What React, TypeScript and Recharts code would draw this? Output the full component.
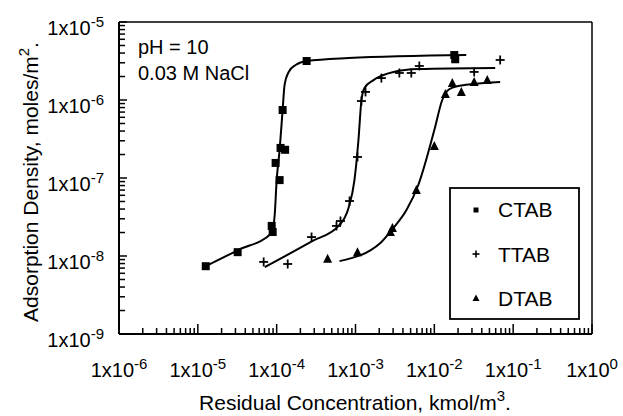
import React from 'react';
import { ComposedChart, XAxis, YAxis, Scatter, Line, ReferenceLine, Customized } from 'recharts';

const FONT = '"Liberation Sans", Arial, Helvetica, sans-serif';

const seriesNames = ['CTAB', 'TTAB', 'DTAB'];

// measured points: residual concentration (kmol/m3) and adsorption density (mol/m2)
const ctabConc = [1.26e-5, 3.2e-5, 8.65e-5, 8.9e-5, 9.7e-5, 1.09e-4, 1.12e-4, 1.28e-4, 1.19e-4, 2.4e-4, 1.79e-2, 1.84e-2];
const ctabAds = [7.4e-9, 1.12e-8, 2.43e-8, 2.03e-8, 1.56e-7, 9.4e-8, 2.43e-7, 2.3e-7, 7.44e-7, 3.16e-6, 3.77e-6, 3.33e-6];

const ttabConc = [6.84e-5, 1.38e-4, 2.77e-4, 5.74e-4, 6.45e-4, 8.4e-4, 1.06e-3, 1.19e-3, 1.34e-3, 2.13e-3, 3.6e-3, 5.1e-3, 6.45e-3, 3.2e-2, 6.84e-2];
const ttabAds = [8.4e-9, 7.9e-9, 1.75e-8, 2.43e-8, 2.81e-8, 5.07e-8, 1.86e-7, 9.7e-7, 1.27e-6, 1.91e-6, 2.22e-6, 2.22e-6, 2.73e-6, 2.29e-6, 3.26e-6];

const dtabConc = [4.43e-4, 1.06e-3, 2.77e-3, 2.94e-3, 5.92e-3, 1.0e-2, 1.38e-2, 1.69e-2, 2.2e-2, 3.2e-2, 4.69e-2];
const dtabAds = [9.2e-9, 1.12e-8, 2.03e-8, 2.29e-8, 7.0e-8, 2.57e-7, 1.19e-6, 1.65e-6, 1.27e-6, 1.7e-6, 1.8e-6];

// fitted curves
const ctabFitConc = [1.19e-5, 3.3e-5, 8.65e-5, 9.44e-5, 1.0e-4, 1.09e-4, 1.19e-4, 1.26e-4, 1.42e-4, 1.74e-4, 2.4e-4, 8.15e-4, 2.54e-2];
const ctabFitAds = [7.2e-9, 1.2e-8, 1.97e-8, 3.36e-8, 9.4e-8, 2.29e-7, 7.44e-7, 1.56e-6, 2.29e-6, 2.81e-6, 3.16e-6, 3.45e-6, 3.77e-6];

const ttabFitConc = [7.05e-5, 2.86e-4, 6.1e-4, 8.15e-4, 9.7e-4, 1.09e-3, 1.19e-3, 1.3e-3, 1.69e-3, 3.03e-3, 6.26e-3, 5.92e-2];
const ttabFitAds = [7.2e-9, 1.56e-8, 2.43e-8, 4.12e-8, 9.4e-8, 3.07e-7, 1.0e-6, 1.43e-6, 1.8e-6, 2.29e-6, 2.49e-6, 2.57e-6];

const dtabFitConc = [6.27e-4, 2.07e-3, 3.03e-3, 4.43e-3, 6.26e-3, 1.0e-2, 1.26e-2, 1.5e-2, 2.01e-2, 6.84e-2];
const dtabFitAds = [8.6e-9, 1.47e-8, 2.29e-8, 3.89e-8, 8.13e-8, 4.12e-7, 1.0e-6, 1.34e-6, 1.51e-6, 1.7e-6];

const xDecades = [-6, -5, -4, -3, -2, -1, 0];
const yDecades = [-9, -8, -7, -6, -5];

const zip = (xs: number[], ys: number[]) => xs.map((x, i) => ({ x, y: ys[i] }));

const ctabData = zip(ctabConc, ctabAds);
const ttabData = zip(ttabConc, ttabAds);
const dtabData = zip(dtabConc, dtabAds);
const ctabFit = zip(ctabFitConc, ctabFitAds);
const ttabFit = zip(ttabFitConc, ttabFitAds);
const dtabFit = zip(dtabFitConc, dtabFitAds);

const logTicks = (decades: number[]) => {
  const out: number[] = [];
  decades.forEach((d, i) => {
    if (i === decades.length - 1) {
      out.push(Math.pow(10, d));
    } else {
      for (let k = 1; k <= 9; k++) out.push(k * Math.pow(10, d));
    }
  });
  return out;
};

const xTicks = logTicks(xDecades);
const yTicks = logTicks(yDecades);

const isMajor = (v: number) => {
  const lg = Math.log10(v);
  return Math.abs(lg - Math.round(lg)) < 1e-6;
};

const XTick = (props: any) => {
  const { x, y, payload } = props;
  const v = payload.value;
  const major = isMajor(v);
  return (
    <g>
      <line x1={x} x2={x} y1={y} y2={y - (major ? 10 : 6)} stroke="#000" strokeWidth={1.5} />
      {major && (
        <text x={x} y={y + 43} textAnchor="middle" fontSize={20} fontFamily={FONT} fill="#000">
          1x10<tspan dy={-8} fontSize={15}>{Math.round(Math.log10(v))}</tspan>
        </text>
      )}
    </g>
  );
};

const YTick = (props: any) => {
  const { x, y, payload } = props;
  const v = payload.value;
  const major = isMajor(v);
  return (
    <g>
      <line x1={x} x2={x + (major ? 8 : 6)} y1={y} y2={y} stroke="#000" strokeWidth={1.5} />
      {major && (
        <text x={x - 15} y={y + 13} textAnchor="end" fontSize={20} fontFamily={FONT} fill="#000">
          1x10<tspan dy={-8} fontSize={15}>{Math.round(Math.log10(v))}</tspan>
        </text>
      )}
    </g>
  );
};

const Square = (props: any) => {
  const { cx, cy } = props;
  return <rect x={cx - 4} y={cy - 4} width={8} height={8} fill="#000" />;
};
const Plus = (props: any) => {
  const { cx, cy } = props;
  return (
    <g stroke="#000" strokeWidth={1.8}>
      <line x1={cx - 4.5} x2={cx + 4.5} y1={cy} y2={cy} />
      <line x1={cx} x2={cx} y1={cy - 4.5} y2={cy + 4.5} />
    </g>
  );
};
const Tri = (props: any) => {
  const { cx, cy } = props;
  return <polygon points={`${cx},${cy - 5} ${cx + 4.5},${cy + 4} ${cx - 4.5},${cy + 4}`} fill="#000" />;
};

const Overlay = () => (
  <g fontFamily={FONT} fill="#000">
    <text x={138} y={54} fontSize={20}>pH = 10</text>
    <text x={138} y={80} fontSize={20}>0.03 M NaCl</text>
    <text x={355} y={410} fontSize={21} textAnchor="middle">
      Residual Concentration, kmol/m<tspan dy={-9} fontSize={15}>3</tspan><tspan dy={9}>.</tspan>
    </text>
    <text x={38} y={182} fontSize={21} textAnchor="middle" transform="rotate(-90 38 182)">
      Adsorption Density, moles/m<tspan dy={-9} fontSize={15}>2</tspan><tspan dy={9}>.</tspan>
    </text>
    <rect x={450} y={188} width={129} height={131} fill="#fff" stroke="#000" strokeWidth={1.8} />
    <rect x={473.5} y={207.5} width={5} height={5} fill="#000" />
    <g stroke="#000" strokeWidth={1.6}>
      <line x1={472.5} x2={479.5} y1={254} y2={254} />
      <line x1={476} x2={476} y1={250.5} y2={257.5} />
    </g>
    <polygon points="476,294.5 479.5,301 472.5,301" fill="#000" />
    <text x={498} y={217} fontSize={21}>{seriesNames[0]}</text>
    <text x={498} y={262} fontSize={21}>{seriesNames[1]}</text>
    <text x={498} y={306} fontSize={21}>{seriesNames[2]}</text>
  </g>
);

export default function App() {
  return (
    <div style={{ position: 'absolute', left: 0, top: 0, width: 623, height: 416, background: '#fff' }}>
      <ComposedChart width={623} height={416} margin={{ top: 22, right: 31, bottom: 0, left: 0 }}>
        <XAxis
          dataKey="x"
          type="number"
          scale="log"
          domain={[1e-6, 1]}
          allowDataOverflow
          ticks={xTicks}
          interval={0}
          tick={<XTick />}
          tickSize={0}
          tickMargin={0}
          tickLine={false}
          height={82}
          axisLine={{ stroke: '#000', strokeWidth: 2 }}
        />
        <YAxis
          dataKey="y"
          type="number"
          scale="log"
          domain={[1e-9, 1e-5]}
          allowDataOverflow
          ticks={yTicks}
          interval={0}
          tick={<YTick />}
          tickSize={0}
          tickMargin={0}
          tickLine={false}
          width={119}
          axisLine={{ stroke: '#000', strokeWidth: 2 }}
        />
        <ReferenceLine y={1e-5} stroke="#000" strokeWidth={1.5} />
        <ReferenceLine x={1} stroke="#000" strokeWidth={1.5} />
        <Line data={ctabFit} dataKey="y" type="monotone" dot={false} stroke="#000" strokeWidth={2} isAnimationActive={false} />
        <Line data={ttabFit} dataKey="y" type="monotone" dot={false} stroke="#000" strokeWidth={2} isAnimationActive={false} />
        <Line data={dtabFit} dataKey="y" type="monotone" dot={false} stroke="#000" strokeWidth={2} isAnimationActive={false} />
        <Scatter name={seriesNames[0]} data={ctabData} shape={<Square />} isAnimationActive={false} />
        <Scatter name={seriesNames[1]} data={ttabData} shape={<Plus />} isAnimationActive={false} />
        <Scatter name={seriesNames[2]} data={dtabData} shape={<Tri />} isAnimationActive={false} />
        <Customized component={<Overlay />} />
      </ComposedChart>
    </div>
  );
}
